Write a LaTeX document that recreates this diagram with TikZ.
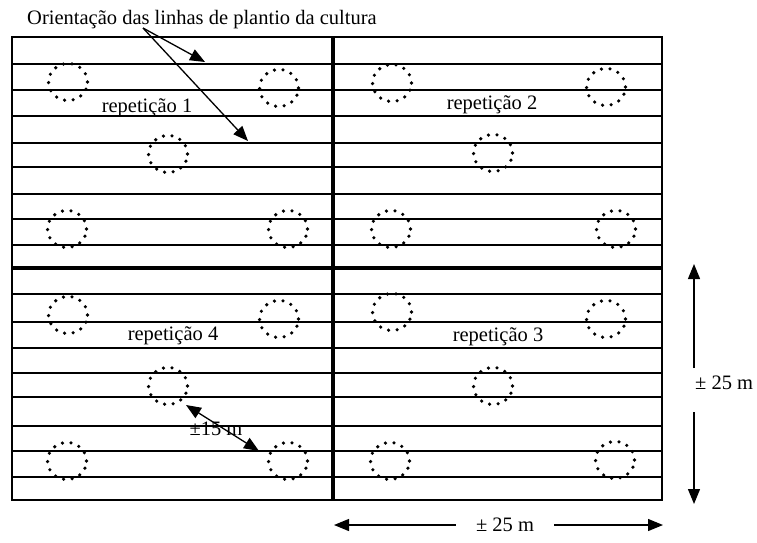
\documentclass[tikz,border=0pt]{standalone}
\usepackage{fontspec}
\setmainfont{Liberation Serif}
\usetikzlibrary{positioning,arrows.meta,shapes.geometric}

\begin{document}
\begin{tikzpicture}[x=1pt,y=-1pt,font=\fontsize{20.5}{24}\selectfont]
            \tikzstyle{seta}=[-{Triangle[length=15pt,width=12pt]},line width=1.3pt]
            \tikzstyle{dupla}=[{Triangle[length=15pt,width=12pt]}-{Triangle[length=15pt,width=12pt]},line width=1.3pt]
            \tikzstyle{linha}=[line width=1.3pt]
            \tikzstyle{divisa}=[line width=3.8pt]
            \tikzstyle{poco}=[ellipse,draw,minimum width=39pt,minimum height=37pt,inner sep=0pt,line width=3.6pt,dash pattern=on 0pt off 8.6pt,line cap=round]
            \useasboundingbox (0,0) rectangle (757,542);

            \foreach \y in {64,90,116,143,167,194,219,245,294,322,348,373,397,426,451,477}
                \draw[linha] (12,\y) -- (662,\y);
            \draw[linha] (12,37) rectangle (662,500);
            \draw[divisa] (12,268) -- (662,268);
            \draw[divisa] (333,37) -- (333,501);

            \foreach \x/\y [count=\i] in {68/82,279/88,168/154,67/229,288/229,
                    392/83,606/87,493/153,391/229,616/229,
                    68/315,279/319,168/386,67/461,288/461,
                    392/312,606/319,493/386,390/461,615/460}
                \node[poco] (poco\i) at (\x,\y) {};

            \node (rep1) at (147,108) {repetição 1};
            \node (rep2) at (492,105) {repetição 2};
            \node (rep3) at (498,337) {repetição 3};
            \node (rep4) at (173,336) {repetição 4};

            \node[anchor=base west,inner sep=0pt] (titulo) at (27,24) {Orientação das linhas de plantio da cultura};
            \coordinate (origem) at (143,28);
            \coordinate (ponta1) at (205,62);
            \coordinate (ponta2) at (248,141);
            \draw[seta] (origem) -- (ponta1);
            \draw[seta] (origem) -- (ponta2);

            \coordinate (d15a) at (186,405);
            \coordinate (d15b) at (259,451);
            \draw[dupla] (d15a) -- (d15b);
            \node[inner sep=0pt] (dist15) at (216,429) {±15 m};

            \node[anchor=west,inner sep=0pt] (cotaV) at (695,383) {± 25 m};
            \coordinate (vtopo) at (694,264);
            \coordinate (vsup) at (694,368);
            \coordinate (vinf) at (694,412);
            \coordinate (vbase) at (694,504);
            \draw[seta] (vsup) -- (vtopo);
            \draw[seta] (vinf) -- (vbase);

            \node[inner xsep=20pt] (cotaH) at (505,525) {± 25 m};
            \coordinate (hesq) at (334,525);
            \coordinate (hdir) at (663,525);
            \draw[seta] (cotaH) -- (hesq);
            \draw[seta] (cotaH) -- (hdir);
        \end{tikzpicture}
\end{document}
